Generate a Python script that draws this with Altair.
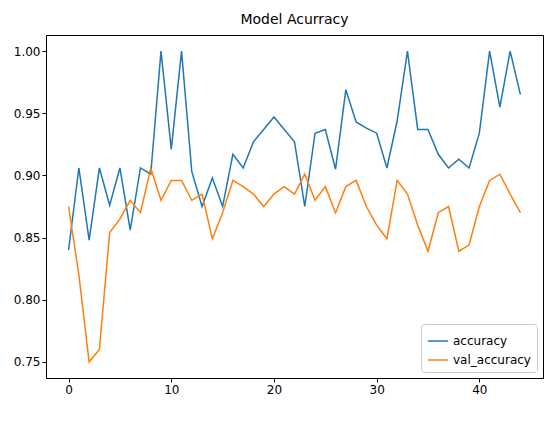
import pandas as pd
import altair as alt

accuracy = [0.840, 0.906, 0.848, 0.906, 0.876, 0.906, 0.856, 0.906, 0.901, 1.0,
            0.921, 1.0, 0.903, 0.875, 0.898, 0.875, 0.917, 0.906, 0.927, 0.937,
            0.947, 0.937, 0.927, 0.875, 0.934, 0.937, 0.905, 0.969, 0.943, 0.938,
            0.934, 0.906, 0.944, 1.0, 0.937, 0.937, 0.917, 0.906, 0.913, 0.906,
            0.934, 1.0, 0.955, 1.0, 0.965]
val_accuracy = [0.875, 0.82, 0.75, 0.76, 0.854, 0.865, 0.88, 0.87, 0.906, 0.88,
                0.896, 0.896, 0.88, 0.885, 0.849, 0.87, 0.896, 0.891, 0.885, 0.875,
                0.885, 0.891, 0.885, 0.901, 0.88, 0.891, 0.87, 0.891, 0.896, 0.875,
                0.86, 0.849, 0.896, 0.885, 0.86, 0.839, 0.87, 0.875, 0.839, 0.844,
                0.875, 0.896, 0.901, 0.885, 0.87]

df = pd.concat([
    pd.DataFrame({'epoch': range(len(accuracy)), 'value': accuracy, 'series': 'accuracy'}),
    pd.DataFrame({'epoch': range(len(val_accuracy)), 'value': val_accuracy, 'series': 'val_accuracy'}),
])

chart = alt.Chart(df).mark_line(strokeWidth=1.5, clip=True).encode(
    x=alt.X('epoch:Q', title=None, scale=alt.Scale(domain=[-2.2, 46.2], nice=False),
            axis=alt.Axis(values=[0, 10, 20, 30, 40], grid=False)),
    y=alt.Y('value:Q', title=None, scale=alt.Scale(domain=[0.737, 1.013], nice=False, zero=False),
            axis=alt.Axis(values=[0.75, 0.80, 0.85, 0.90, 0.95, 1.00], format='.2f', grid=False)),
    color=alt.Color('series:N', title=None,
                    scale=alt.Scale(domain=['accuracy', 'val_accuracy'], range=['#1f77b4', '#ff7f0e']),
                    legend=alt.Legend(orient='bottom-right', symbolType='stroke', symbolSize=400,
                                      labelFontSize=12, strokeColor='#cccccc', padding=6,
                                      cornerRadius=3, fillColor='white', offset=6))
).properties(
    title='Model Acurracy',
    width=540, height=392,
    autosize=alt.AutoSizeParams(type='fit', contains='padding')
).configure(font='DejaVu Sans').configure_title(
    fontSize=14, fontWeight='normal', color='black', offset=8
).configure_axis(
    labelFontSize=12, labelColor='black', domainColor='black', tickColor='black',
    labelFont='DejaVu Sans', tickSize=4
).configure_view(stroke='black', strokeWidth=1)

chart.save("out.html", embed_options={"renderer": "svg", "actions": False})
